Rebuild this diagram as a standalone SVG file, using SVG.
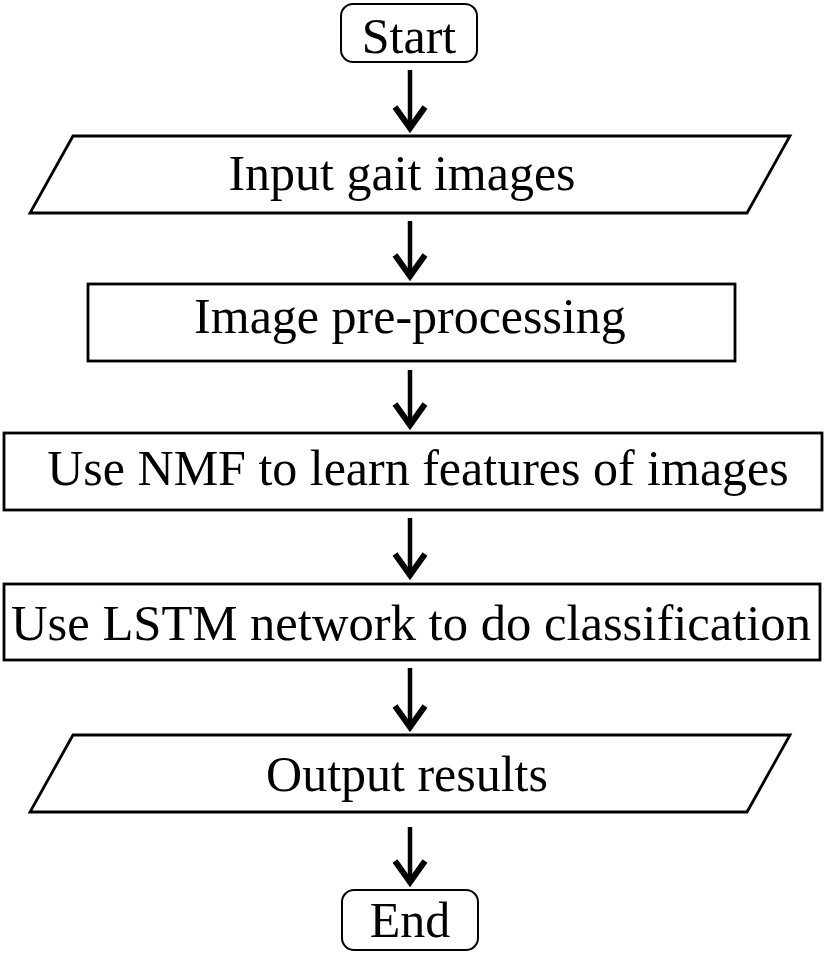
<svg xmlns="http://www.w3.org/2000/svg" width="827" height="954" viewBox="0 0 827 954">
<style>
.box{fill:#fff;stroke:#000;stroke-width:2.8}
.term{fill:#fff;stroke:#000;stroke-width:2}
.lbl{font-family:"Liberation Serif","Times New Roman",serif;font-size:50px;fill:#000;text-anchor:middle}
.shaft{fill:none;stroke:#000;stroke-width:4.5}
.head{fill:none;stroke:#000;stroke-width:6;stroke-linejoin:miter}
</style>
<rect width="827" height="954" fill="#fff"/>
<g id="start"><rect class="term" x="341" y="4" width="136" height="58" rx="12"/><text class="lbl" x="409" y="53">Start</text></g>
<g id="input"><polygon class="box" points="73,136 790,136 747,213 30,213"/><text class="lbl" x="402" y="190">Input gait images</text></g>
<g id="preprocess"><rect class="box" x="88" y="284" width="647" height="77"/><text class="lbl" x="410" y="333">Image pre-processing</text></g>
<g id="nmf"><rect class="box" x="4" y="433" width="818" height="77"/><text class="lbl" x="418" y="485">Use NMF to learn features of images</text></g>
<g id="lstm"><rect class="box" x="4" y="584" width="816" height="76"/><text class="lbl" x="411" y="640" textLength="800" lengthAdjust="spacingAndGlyphs">Use LSTM network to do classification</text></g>
<g id="output"><polygon class="box" points="73,735 790,735 747,812 30,812"/><text class="lbl" x="407" y="791">Output results</text></g>
<g id="end"><rect class="term" x="342" y="890" width="136" height="60" rx="12"/><text class="lbl" x="410" y="937">End</text></g>
<g id="connectors">
<path class="shaft" d="M410,70 V126"/><path class="head" d="M395,107 L410,128 L425,107"/>
<path class="shaft" d="M410,221 V274"/><path class="head" d="M395,255 L410,276 L425,255"/>
<path class="shaft" d="M410,370 V423"/><path class="head" d="M395,404 L410,425 L425,404"/>
<path class="shaft" d="M410,518 V573"/><path class="head" d="M395,554 L410,575 L425,554"/>
<path class="shaft" d="M410,668 V725"/><path class="head" d="M395,706 L410,727 L425,706"/>
<path class="shaft" d="M410,827 V880"/><path class="head" d="M395,861 L410,882 L425,861"/>
</g>
</svg>
